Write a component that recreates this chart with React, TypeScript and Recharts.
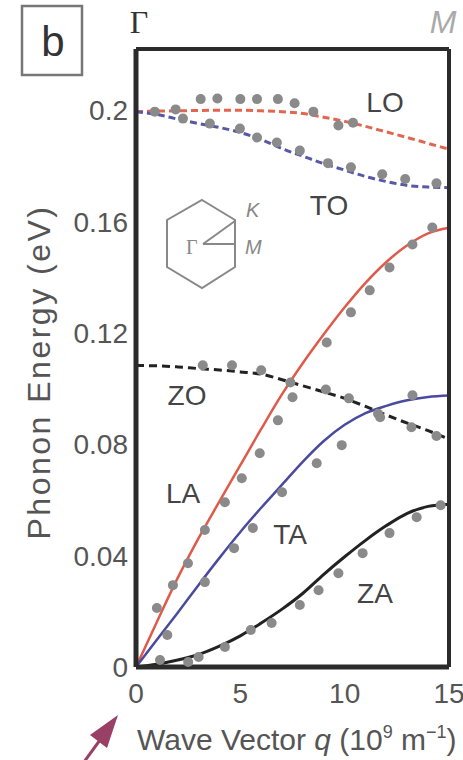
import { ComposedChart, Line, Scatter, XAxis, YAxis } from 'recharts';

// fitted dispersion curves, sampled on q = 0..15 (10^9 m^-1), energy in eV
const Q_GRID = [0, 1, 2, 3, 4, 5, 6, 7, 8, 9, 10, 11, 12, 13, 14, 15];
const LO_FIT = [0.1995, 0.1997, 0.1998, 0.1999, 0.2, 0.2, 0.1998, 0.1995, 0.1988, 0.1975, 0.196, 0.1942, 0.1922, 0.1902, 0.1881, 0.186];
const TO_FIT = [0.1995, 0.1985, 0.1968, 0.1952, 0.1938, 0.192, 0.1895, 0.1862, 0.1835, 0.1808, 0.1785, 0.1762, 0.1744, 0.173, 0.1724, 0.1722];
const ZO_FIT = [0.1083, 0.1082, 0.1078, 0.1072, 0.1067, 0.106, 0.1052, 0.1032, 0.101, 0.0988, 0.0965, 0.0936, 0.0905, 0.0876, 0.0849, 0.0818];
const LA_FIT = [0, 0.0162, 0.032, 0.0463, 0.0595, 0.0725, 0.0855, 0.098, 0.1092, 0.1195, 0.1292, 0.138, 0.1455, 0.1515, 0.1558, 0.1578];
const TA_FIT = [0, 0.0098, 0.0195, 0.0295, 0.0392, 0.0485, 0.0572, 0.0655, 0.0738, 0.0812, 0.087, 0.0912, 0.0938, 0.0958, 0.097, 0.0975];
const ZA_FIT = [0, 0.001, 0.0025, 0.0045, 0.0075, 0.0112, 0.0158, 0.0208, 0.0265, 0.0333, 0.0396, 0.0455, 0.0508, 0.0552, 0.0577, 0.0585];

// measured points
const LO_Q = [0.9, 1.9, 3.1, 3.9, 5.0, 5.8, 6.8, 7.6, 8.5, 9.7, 10.4];
const LO_E = [0.1995, 0.2003, 0.204, 0.2042, 0.204, 0.204, 0.204, 0.2025, 0.1995, 0.1945, 0.1955];
const TO_Q = [2.25, 3.54, 4.98, 5.8, 6.75, 7.85, 9.2, 10.3, 11.8, 12.9, 14.4];
const TO_E = [0.197, 0.1952, 0.1934, 0.1902, 0.1884, 0.1855, 0.181, 0.1795, 0.177, 0.1753, 0.1738];
const ZO_Q = [3.2, 4.6, 6.0, 7.4, 9.1, 10.2, 11.7, 13.2, 14.4];
const ZO_E = [0.1084, 0.1084, 0.1066, 0.1022, 0.0997, 0.0965, 0.0897, 0.0861, 0.083];
const LA_Q = [1.0, 1.77, 2.49, 3.3, 4.26, 5.07, 5.93, 6.8, 7.5, 9.14, 10.3, 11.2, 12.15, 13.25, 14.2];
const LA_E = [0.0212, 0.0294, 0.0373, 0.0492, 0.0592, 0.0678, 0.0768, 0.0886, 0.0969, 0.1166, 0.1274, 0.1353, 0.1435, 0.1518, 0.1579];
const TA_Q = [1.5, 3.3, 4.7, 5.6, 7.0, 8.66, 9.86, 11.6, 13.25];
const TA_E = [0.0115, 0.0305, 0.0427, 0.0499, 0.0628, 0.0732, 0.0797, 0.091, 0.0976];
const ZA_Q = [1.15, 2.5, 3.0, 4.26, 5.5, 6.5, 7.85, 8.75, 9.7, 10.86, 12.15, 13.45, 14.6];
const ZA_E = [0.0025, 0.0018, 0.0036, 0.0072, 0.0133, 0.0158, 0.0223, 0.0276, 0.0337, 0.0409, 0.0481, 0.0538, 0.0581];

const Q_TICKS = [0, 5, 10, 15];
const Q_INNER_TICKS = [5, 10];
const E_TICKS = [0, 0.04, 0.08, 0.12, 0.16, 0.2];
const E_RIGHT_TICKS = [0.008, 0.016, 0.024, 0.032, 0.04, 0.048, 0.056, 0.064, 0.072, 0.08, 0.088, 0.096, 0.104, 0.112, 0.12, 0.128, 0.136, 0.144, 0.152, 0.16, 0.168, 0.176, 0.184, 0.192, 0.2, 0.208, 0.216];

const fitData = Q_GRID.map((q, i) => ({
  q,
  lo: LO_FIT[i],
  to: TO_FIT[i],
  zo: ZO_FIT[i],
  la: LA_FIT[i],
  ta: TA_FIT[i],
  za: ZA_FIT[i],
}));

const points = (qs: number[], es: number[]) => qs.map((q, i) => ({ q, e: es[i] }));

const FONT = '"Liberation Sans", Arial, sans-serif';
const FRAME = '#2b2b2b';

const Dot = (p: any) => <circle cx={p.cx} cy={p.cy} r={5} fill="#8a8a8a" />;

export default function App() {
  const dotSets = [
    points(LO_Q, LO_E),
    points(TO_Q, TO_E),
    points(ZO_Q, ZO_E),
    points(LA_Q, LA_E),
    points(TA_Q, TA_E),
    points(ZA_Q, ZA_E),
  ];

  return (
    <div style={{ position: 'absolute', left: 0, top: 0, width: 463, height: 760, background: '#fff', overflow: 'hidden' }}>
      <ComposedChart
        width={463}
        height={760}
        data={fitData}
        margin={{ top: 49, right: 14, left: 96, bottom: 63 }}
      >
        {/* labelled axes */}
        <XAxis
          xAxisId="q"
          dataKey="q"
          type="number"
          domain={[0, 15]}
          ticks={Q_TICKS}
          height={30}
          tickSize={0}
          tickMargin={16}
          tickLine={false}
          axisLine={false}
          tick={{ fontSize: 28, fill: '#555', fontFamily: FONT }}
        />
        <YAxis
          yAxisId="e"
          type="number"
          domain={[0, 0.222]}
          ticks={E_TICKS}
          width={40}
          tickSize={0}
          tickMargin={8}
          tickLine={false}
          axisLine={false}
          tickFormatter={(v: number) => (v === 0 ? '0' : String(v))}
          tick={{ fontSize: 28, fill: '#555', fontFamily: FONT }}
        />
        {/* frame with inward ticks */}
        <XAxis
          xAxisId="qB"
          type="number"
          orientation="bottom"
          mirror
          height={1}
          domain={[0, 15]}
          ticks={Q_INNER_TICKS}
          tick={false}
          tickSize={8}
          tickLine={{ stroke: FRAME, strokeWidth: 2 }}
          axisLine={{ stroke: FRAME, strokeWidth: 5 }}
        />
        <XAxis
          xAxisId="qT"
          type="number"
          orientation="top"
          mirror
          height={1}
          domain={[0, 15]}
          ticks={Q_INNER_TICKS}
          tick={false}
          tickSize={8}
          tickLine={{ stroke: FRAME, strokeWidth: 2 }}
          axisLine={{ stroke: FRAME, strokeWidth: 4 }}
        />
        <YAxis
          yAxisId="eL"
          type="number"
          orientation="left"
          mirror
          width={1}
          domain={[0, 0.222]}
          ticks={E_TICKS}
          tick={false}
          tickSize={6}
          tickLine={{ stroke: FRAME, strokeWidth: 2 }}
          axisLine={{ stroke: FRAME, strokeWidth: 5 }}
        />
        <YAxis
          yAxisId="eR"
          type="number"
          orientation="right"
          mirror
          width={1}
          domain={[0, 0.222]}
          ticks={E_RIGHT_TICKS}
          tick={false}
          tickSize={5}
          tickLine={{ stroke: FRAME, strokeWidth: 2 }}
          axisLine={{ stroke: FRAME, strokeWidth: 4 }}
        />

        {dotSets.map((d, i) => (
          <Scatter
            key={i}
            xAxisId="q"
            yAxisId="e"
            data={d}
            dataKey="e"
            shape={Dot}
            isAnimationActive={false}
          />
        ))}

        <Line xAxisId="q" yAxisId="e" type="monotone" dataKey="lo" stroke="#e2654f" strokeWidth={3} strokeDasharray="7 4" dot={false} isAnimationActive={false} />
        <Line xAxisId="q" yAxisId="e" type="monotone" dataKey="to" stroke="#5858a6" strokeWidth={3} strokeDasharray="7 4" dot={false} isAnimationActive={false} />
        <Line xAxisId="q" yAxisId="e" type="monotone" dataKey="zo" stroke="#222" strokeWidth={3} strokeDasharray="8 5" dot={false} isAnimationActive={false} />
        <Line xAxisId="q" yAxisId="e" type="monotone" dataKey="la" stroke="#e05a4a" strokeWidth={2.5} dot={false} isAnimationActive={false} />
        <Line xAxisId="q" yAxisId="e" type="monotone" dataKey="ta" stroke="#4a4a9e" strokeWidth={2.5} dot={false} isAnimationActive={false} />
        <Line xAxisId="q" yAxisId="e" type="monotone" dataKey="za" stroke="#222" strokeWidth={3} dot={false} isAnimationActive={false} />
      </ComposedChart>

      <svg
        width={463}
        height={760}
        style={{ position: 'absolute', left: 0, top: 0, pointerEvents: 'none' }}
        fontFamily={FONT}
      >
        {/* panel letter */}
        <rect x={22} y={6} width={60} height={69} fill="none" stroke="#777" strokeWidth={2.5} />
        <text x={53} y={56} fontSize={42} textAnchor="middle" fill="#333">b</text>

        {/* high-symmetry points */}
        <text x={139} y={33} fontSize={32} fontFamily='"Liberation Serif", serif' textAnchor="middle" fill="#333">Γ</text>
        <text x={443} y={33} fontSize={32} fontStyle="italic" textAnchor="middle" fill="#aaa">M</text>

        {/* branch names */}
        <g fontSize={28} fill="#444" textAnchor="middle">
          <text x={385} y={112}>LO</text>
          <text x={329} y={215}>TO</text>
          <text x={187} y={405}>ZO</text>
          <text x={183} y={503}>LA</text>
          <text x={290} y={544}>TA</text>
          <text x={375} y={603}>ZA</text>
        </g>

        {/* Brillouin zone inset */}
        <g stroke="#888" strokeWidth={2} fill="none">
          <polygon points="202,200 235,220 235,267 202,288 167,267 167,220" />
          <line x1={203} y1={244} x2={235} y2={244} />
          <line x1={203} y1={244} x2={235} y2={221} />
        </g>
        <g fill="#888" fontSize={20}>
          <text x={246} y={217} fontStyle="italic">K</text>
          <text x={245} y={254} fontStyle="italic">M</text>
          <text x={186} y={254} fontFamily='"Liberation Serif", serif'>Γ</text>
        </g>

        {/* axis titles */}
        <text transform="rotate(-90)" x={-372} y={50} fontSize={32} letterSpacing={2.5} textAnchor="middle" fill="#555">
          Phonon Energy (eV)
        </text>
        <text x={137} y={750} fontSize={30} fill="#555">
          Wave Vector <tspan fontStyle="italic">q</tspan> (10
          <tspan dy={-12} fontSize={18}>9</tspan>
          <tspan dy={12}> m</tspan>
          <tspan dy={-12} fontSize={18}>−1</tspan>
          <tspan dy={12}>)</tspan>
        </text>

        {/* pointer arrow */}
        <line x1={84} y1={762} x2={100} y2={740} stroke="#9a3f66" strokeWidth={3} />
        <polygon points="118,715 90,735 107,748" fill="#9a3f66" />
      </svg>
    </div>
  );
}
